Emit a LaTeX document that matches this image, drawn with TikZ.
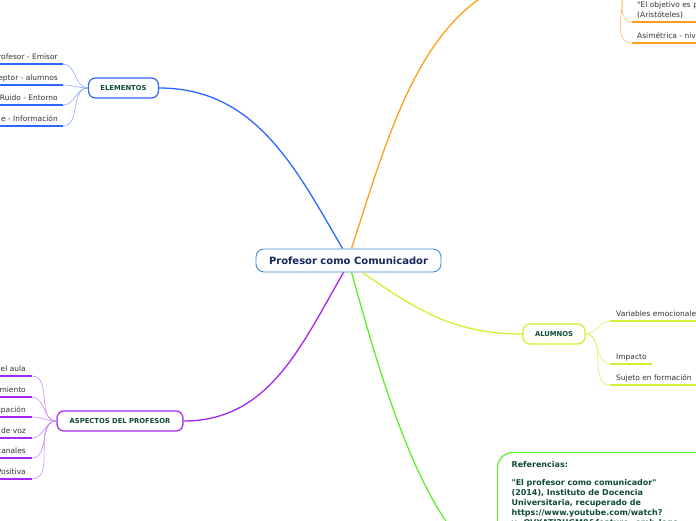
\documentclass[tikz,border=0pt]{standalone}
\usepackage{fontspec}
\setmainfont{DejaVu Sans}[Ligatures=TeXOff]
\usepackage{xcolor}
\usepackage{tikz}
\usetikzlibrary{positioning}

\definecolor{centro}{HTML}{3F8FD2}
\definecolor{azul}{HTML}{2F66FF}
\definecolor{naranja}{HTML}{FF9F1A}
\definecolor{lima}{HTML}{D2F030}
\definecolor{verde}{HTML}{5CF02A}
\definecolor{morado}{HTML}{A526F2}
\definecolor{tinta}{HTML}{0E4A35}
\definecolor{marino}{HTML}{14285A}

\begin{document}
\begin{tikzpicture}[x=1pt,y=1pt,
    topic/.style={draw,fill=white,rounded corners=7pt,line width=1.2pt,minimum height=20pt,text=tinta,font=\fontsize{6.8}{8}\selectfont\bfseries},
    leaf/.style={text=black!80,font=\fontsize{7.5}{10}\selectfont,inner xsep=5pt,inner ysep=2pt,text depth=0.22em,align=left},
    branch/.style={line width=1.3pt},
    twig/.style={line width=0.6pt},
    under/.style={line width=1.6pt}]
    \useasboundingbox (0,0) rectangle (696,-520);

    \node[draw=centro,fill=white,line width=0.9pt,rounded corners=8pt,minimum width=185pt,minimum height=23pt,
          text=marino,font=\fontsize{10}{12}\selectfont\bfseries] (prof) at (348.5,-260.5) {Profesor como Comunicador};

    \node[topic,draw=azul,minimum width=70pt] (elem) at (123.5,-88) {ELEMENTOS};
    \node[topic,draw=morado,minimum width=126pt] (aspec) at (120,-421) {ASPECTOS DEL PROFESOR};
    \node[topic,draw=lima,minimum width=62pt] (alum) at (554,-334) {ALUMNOS};
    \node[draw=verde,line width=1.2pt,rounded corners=15pt,anchor=north west,text width=200pt,align=left,
          inner xsep=14pt,inner ysep=9pt,text depth=200pt,text=tinta,font=\fontsize{8}{10}\selectfont\bfseries]
          (refs) at (497,-452) {Referencias:\\[8pt]
          "El profesor como comunicador"\\
          (2014), Instituto de Docencia\\
          Universitaria, recuperado de\\
          https://www.youtube.com/watch?\\
          v=OVXATJ2UGM0\&feature=emb\_logo};
    \coordinate (objl) at (568,28);
    \coordinate (objr) at (612,28);

    \path[branch]
    ([xshift=-6pt]prof.north) edge[azul,out=120,in=0] (elem.east)
    ([xshift=3pt]prof.north) edge[naranja,out=72,in=180] (objl)
    ([xshift=-5pt]prof.south) edge[morado,out=240,in=0] (aspec.east)
    ([xshift=3pt]prof.south) edge[verde,out=-74,in=165,looseness=0.6] ([yshift=-113pt]refs.north west)
    ([xshift=14pt]prof.south) edge[lima,out=-35,in=180] (alum.west);

    % elementos
    \foreach \y/\t [count=\i] in {64/rofesor - Emisor, 85/eptor - alumnos, 105/Ruido - Entorno, 126/e - Información} {
        \node[leaf,anchor=south east] (elem\i) at (63,-\y) {\t};
        \draw[under,azul] (elem\i.south east) -- ++(-70,0);
        \path[twig] (elem.west) edge[azul!55,out=180,in=0] (elem\i.south east);
    }

    % aspectos del profesor
    \foreach \y/\t [count=\i] in {376/el aula, 397/miento, 417/ipación, 438/de voz, 458/canales, 479/Positiva} {
        \node[leaf,anchor=south east,inner xsep=6pt] (aspec\i) at (32,-\y) {\t};
        \draw[under,morado] (aspec\i.south east) -- ++(-40,0);
        \path[twig] (aspec.west) edge[morado!55,out=180,in=0] (aspec\i.south east);
    }

    % alumnos
    \foreach \y/\t/\w [count=\i] in {321/Variables emocionales/90, 364/Impacto/42, 385/Sujeto en formación/90} {
        \node[leaf,anchor=south west,inner xsep=6pt] (alum\i) at (610,-\y) {\t};
        \draw[under,lima] (alum\i.south west) -- ++(\w,0);
        \path[twig] (alum.east) edge[lima!80,out=0,in=180] (alum\i.south west);
    }

    % comunicacion
    \node[leaf,anchor=south west] (obj1) at (632,-22) {"El objetivo es p\\(Aristóteles)};
    \node[leaf,anchor=south west] (obj2) at (632,-43) {Asimétrica - niv};
    \foreach \n in {obj1,obj2} {
        \draw[under,naranja] (\n.south west) -- ++(70,0);
        \path[twig] (objr) edge[naranja!70,out=0,in=180] (\n.south west);
    }
\end{tikzpicture}
\end{document}
